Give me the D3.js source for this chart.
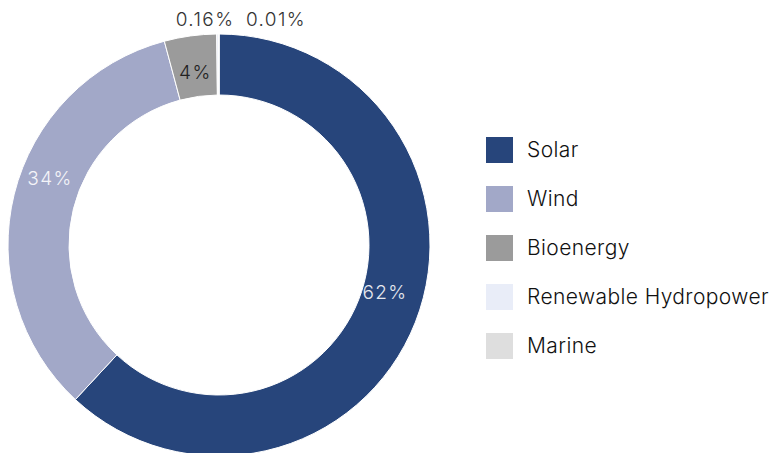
<!doctype html>
<html lang="en-US">
<head>
<meta charset="utf-8">
<title>Renewable mix</title>
<script src="https://cdn.jsdelivr.net/npm/d3@7"></script>
<style>
  html, body { margin: 0; padding: 0; background: #fff; }
  text { font-family: Inter, Roboto, sans-serif; }
</style>
</head>
<body>
<svg id="chart" width="771" height="453"></svg>
<script>
// data
var categories = ["Solar", "Wind", "Bioenergy", "Renewable Hydropower", "Marine"];
var shares = [61.9, 33.9, 4.0, 0.16, 0.01];
var labels = ["62%", "34%", "4%", "0.16%", "0.01%"];
var colors = ["#27457b", "#a2a8c8", "#9b9b9b", "#e9edf8", "#dedede"];
var labelColors = ["#e6e8ee", "#f4f4f8", "#222", "#333", "#333"];

var svg = d3.select("#chart");
var cx = 219, cy = 245, rOut = 211, rIn = 150;

var pie = d3.pie().sort(null).value(function(d) { return d; });
var arcs = pie(shares);
var arc = d3.arc().innerRadius(rIn).outerRadius(rOut);

var g = svg.append("g").attr("transform", "translate(" + cx + "," + cy + ")");

g.selectAll("path.slice")
  .data(arcs)
  .enter().append("path")
  .attr("class", "slice")
  .attr("d", arc)
  .attr("fill", function(d, i) { return colors[i]; })
  .attr("stroke", "#fff")
  .attr("stroke-width", 1);

// labels inside the ring for the big slices
var midArc = d3.arc().innerRadius(rIn + 24).outerRadius(rIn + 24);
var inside = arcs.slice(0, 3);
g.selectAll("text.in")
  .data(inside)
  .enter().append("text")
  .attr("class", "in")
  .attr("transform", function(d, i) {
    var c = midArc.centroid(d);
    // nudge Solar and Wind labels as the original does
    if (i === 0) c = [166, 47];
    if (i === 1) c = [-169, -67];
    return "translate(" + c + ")";
  })
  .attr("text-anchor", "middle")
  .attr("dy", "0.35em")
  .attr("font-size", 19)
  .attr("font-weight", 300)
  .attr("letter-spacing", 1.4)
  .attr("fill", function(d, i) { return labelColors[i]; })
  .text(function(d, i) { return labels[i]; });

// the two tiny slices get labels above the ring
var outside = [{ i: 3, x: 205 }, { i: 4, x: 276 }];
svg.selectAll("text.out")
  .data(outside)
  .enter().append("text")
  .attr("class", "out")
  .attr("x", function(d) { return d.x; })
  .attr("y", 19)
  .attr("dy", "0.35em")
  .attr("text-anchor", "middle")
  .attr("font-size", 19)
  .attr("font-weight", 300)
  .attr("letter-spacing", 1.4)
  .attr("fill", function(d) { return labelColors[d.i]; })
  .text(function(d) { return labels[d.i]; });

// legend
var ly = d3.scalePoint().domain(categories).range([150, 346]);
var leg = svg.append("g").selectAll("g")
  .data(categories)
  .enter().append("g")
  .attr("transform", function(d) { return "translate(486," + ly(d) + ")"; });

leg.append("rect")
  .attr("x", 0).attr("y", -13)
  .attr("width", 27).attr("height", 26)
  .attr("fill", function(d, i) { return colors[i]; });

leg.append("text")
  .attr("x", 41)
  .attr("dy", "0.35em")
  .attr("font-size", 21)
  .attr("font-weight", 300)
  .attr("letter-spacing", 0.4)
  .attr("fill", "#111")
  .text(function(d) { return d; });
</script>
</body>
</html>
